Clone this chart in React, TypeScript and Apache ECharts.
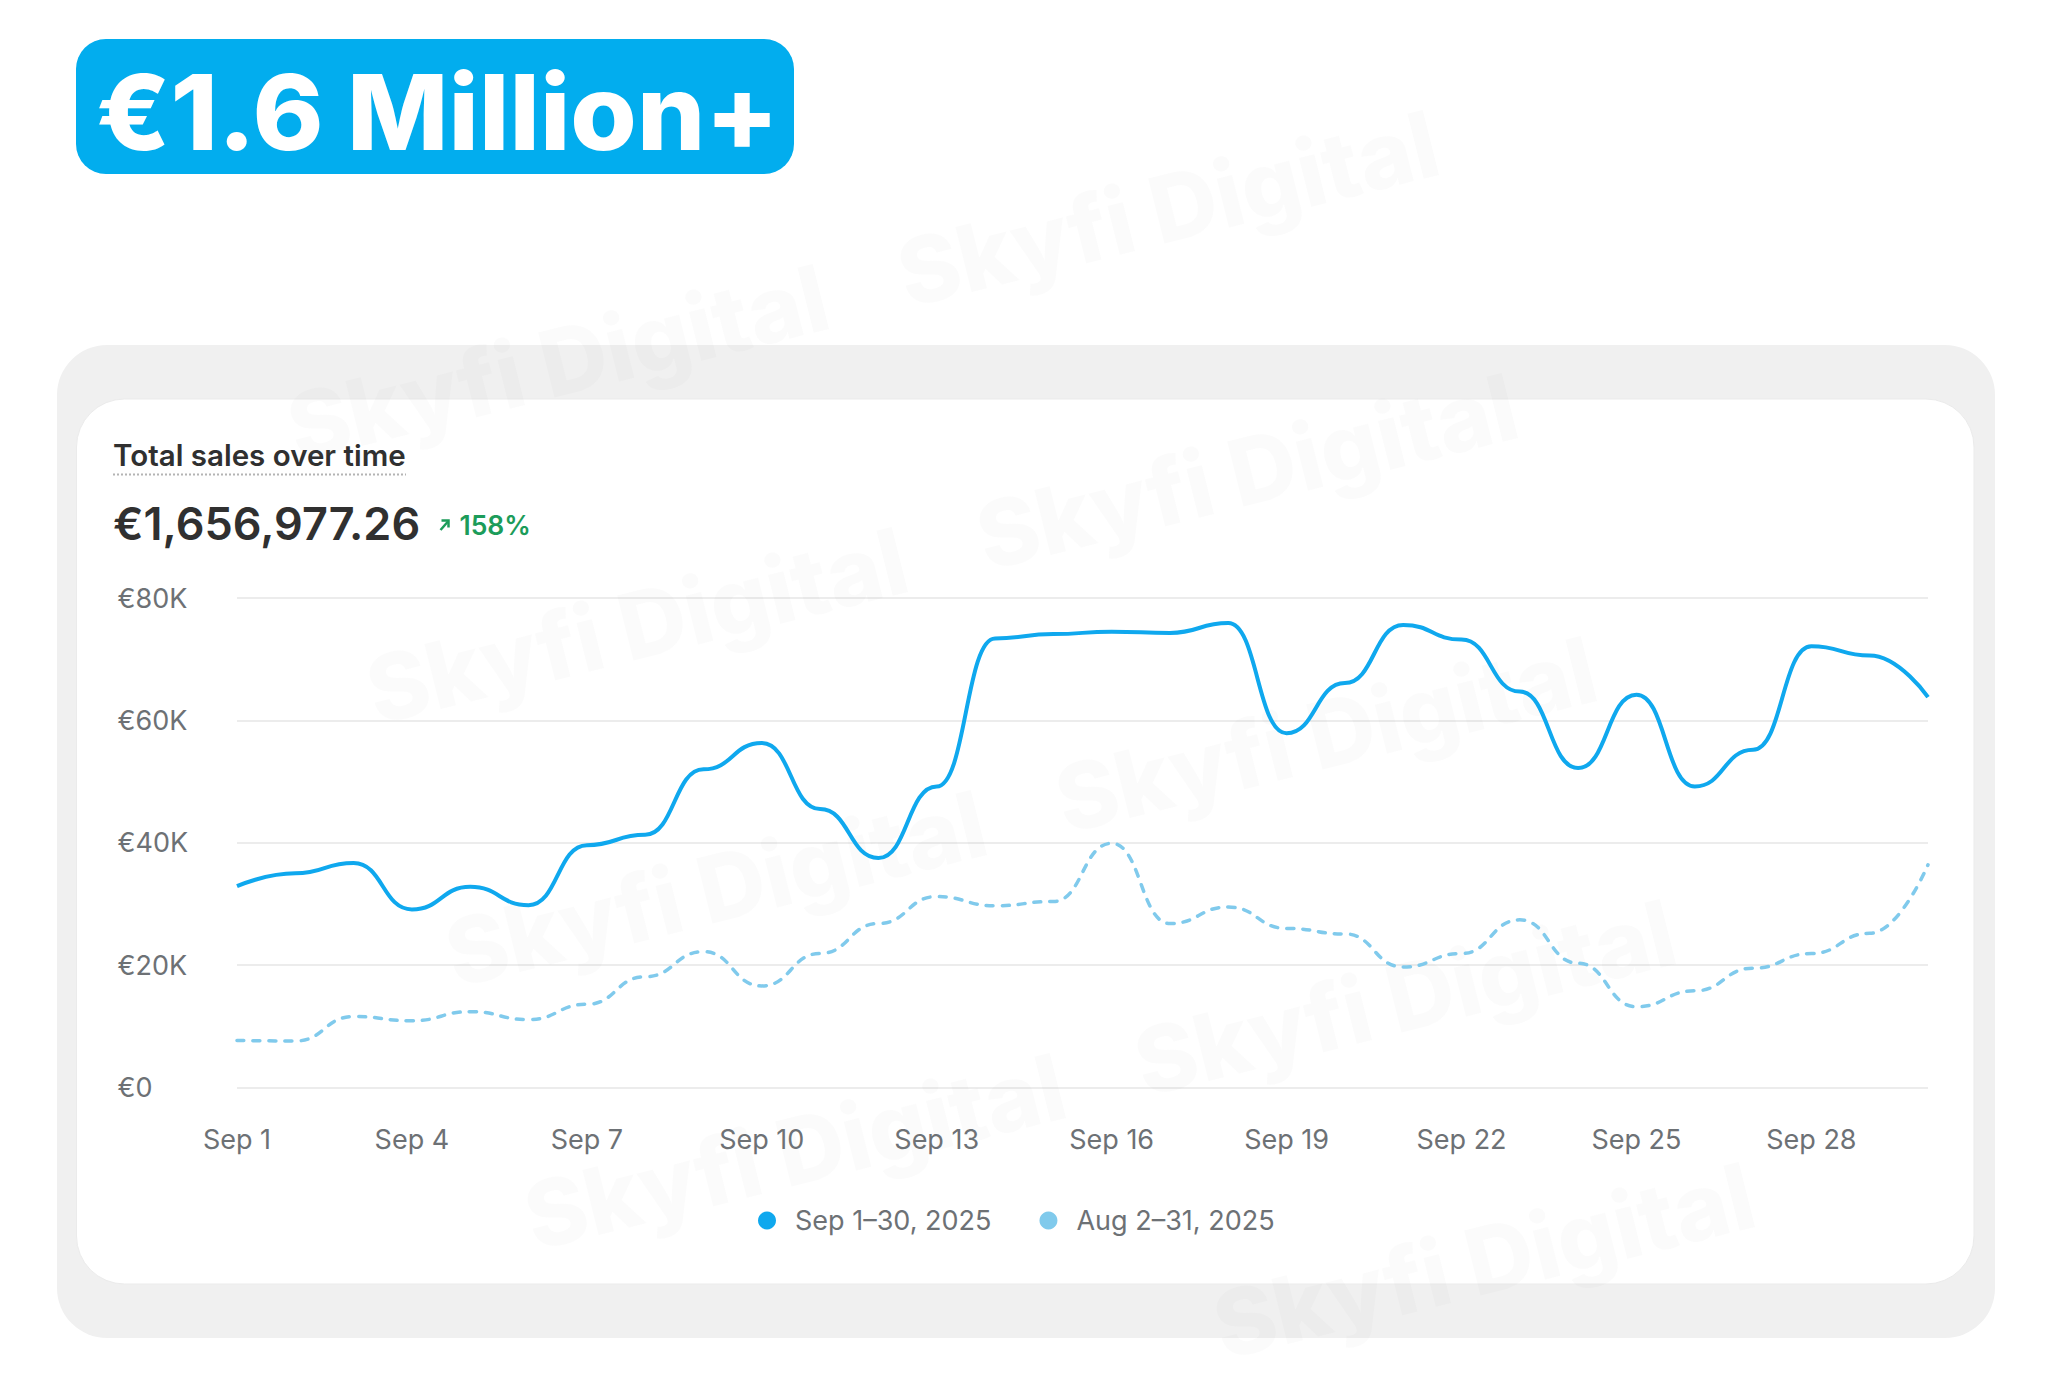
import React, { useEffect, useRef } from 'react';
import * as echarts from 'echarts';

const days = [
  'Sep 1', 'Sep 2', 'Sep 3', 'Sep 4', 'Sep 5', 'Sep 6', 'Sep 7', 'Sep 8', 'Sep 9', 'Sep 10',
  'Sep 11', 'Sep 12', 'Sep 13', 'Sep 14', 'Sep 15', 'Sep 16', 'Sep 17', 'Sep 18', 'Sep 19', 'Sep 20',
  'Sep 21', 'Sep 22', 'Sep 23', 'Sep 24', 'Sep 25', 'Sep 26', 'Sep 27', 'Sep 28', 'Sep 29', 'Sep 30',
];

const currentSales = [
  32900, 35000, 36700, 29100, 32800, 29800, 39600, 41300, 52000, 56300,
  45500, 37500, 49200, 73400, 74100, 74500, 74300, 75900, 57900, 66100,
  75600, 73200, 64700, 52200, 64200, 49200, 55200, 72100, 70600, 63800,
];

const previousSales = [
  7700, 7600, 11600, 10900, 12400, 11100, 13600, 18100, 22200, 16600,
  21900, 26800, 31200, 29700, 30400, 39900, 26800, 29500, 26000, 25100,
  19700, 21900, 27400, 20300, 13200, 15800, 19500, 21900, 25200, 36400,
];

const seriesNames = ['Sep 1–30, 2025', 'Aug 2–31, 2025'];
const seriesColors = ['#0fa8ee', '#80caec'];
const yTicks = [0, 20000, 40000, 60000, 80000];

const headline = '€1.6 Million+';
const cardTitle = 'Total sales over time';
const totalValue = '€1,656,977.26';
const changeValue = '158%';
const watermarkText = 'Skyfi Digital';

const FONT = 'Inter, "Noto Sans", sans-serif';
const LABEL_GREY = '#6d7175';
const GREEN = '#1c9c5a';

function buildWatermarks() {
  const items: any[] = [];
  const ox = 911;
  const oy = 320;
  const ax = 610, ay = -154; // along a row
  const bx = 79, by = 263; // to next row
  const theta = 0.245;
  const fontSize = 92;
  const textLen = 560;
  for (let j = -4; j <= 6; j++) {
    for (let i = -3; i <= 5; i++) {
      const x = ox + i * ax + j * bx;
      const y = oy + i * ay + j * by;
      const left = x - fontSize * Math.sin(theta);
      const right = x + textLen * Math.cos(theta);
      const top = y - textLen * Math.sin(theta) - fontSize * Math.cos(theta);
      if (left < 2 || right > 2046 || top < 2 || y > 1381) continue;
      items.push({
        type: 'text',
        x,
        y,
        rotation: theta,
        silent: true,
        z: 1,
        style: {
          text: watermarkText,
          x: 0,
          y: 0,
          fill: 'rgba(150,150,150,0.04)',
          font: `800 ${fontSize}px ${FONT}`,
          align: 'left',
          verticalAlign: 'bottom',
        },
      });
    }
  }
  return items;
}

export default function App() {
  const ref = useRef<HTMLDivElement>(null);

  useEffect(() => {
    if (!ref.current) return;
    const chart = echarts.init(ref.current, undefined, { renderer: 'svg' });
    const yMin = yTicks[0];
    const yMax = yTicks[yTicks.length - 1];
    const yStep = yTicks[1] - yTicks[0];

    chart.setOption({
      animation: false,
      textStyle: { fontFamily: FONT },
      graphic: [
        {
          type: 'rect', z: -10, silent: true,
          shape: { x: 76, y: 39, width: 718, height: 135, r: 30 },
          style: { fill: '#02adee' },
        },
        {
          type: 'text', z: -9, silent: true,
          x: 96, y: 113, scaleX: 1.034,
          style: {
            text: headline, x: 0, y: 0, fill: '#ffffff',
            font: `800 104px ${FONT}`, verticalAlign: 'middle', align: 'left',
          },
        },
        {
          type: 'rect', z: -10, silent: true,
          shape: { x: 57, y: 345, width: 1938, height: 993, r: 50 },
          style: { fill: '#f0f0f0' },
        },
        {
          type: 'rect', z: -9, silent: true,
          shape: { x: 76.5, y: 399, width: 1897.5, height: 885, r: 48 },
          style: { fill: '#ffffff', stroke: '#ebebeb', lineWidth: 1 },
        },
        {
          type: 'text', z: -8, silent: true,
          style: {
            text: cardTitle, x: 113, y: 454.5, fill: '#303030',
            font: `600 29.5px ${FONT}`, verticalAlign: 'middle', align: 'left',
          },
        },
        {
          type: 'line', z: -8, silent: true,
          shape: { x1: 113, y1: 474.5, x2: 406, y2: 474.5 },
          style: { stroke: '#b4b4b4', lineWidth: 2, lineDash: [2, 2] },
        },
        {
          type: 'text', z: -8, silent: true,
          style: {
            text: totalValue, x: 113, y: 523.6, fill: '#303030',
            font: `600 45px ${FONT}`, verticalAlign: 'middle', align: 'left',
          },
        },
        {
          type: 'line', z: -8, silent: true,
          shape: { x1: 440.5, y1: 530, x2: 448, y2: 521.5 },
          style: { stroke: GREEN, lineWidth: 2.5 },
        },
        {
          type: 'polyline', z: -8, silent: true,
          shape: { points: [[441.5, 520.5], [448.5, 520.5], [448.5, 527.5]] },
          style: { stroke: GREEN, lineWidth: 2.5, fill: 'none' },
        },
        {
          type: 'text', z: -8, silent: true,
          style: {
            text: changeValue, x: 459.5, y: 525, fill: GREEN,
            font: `600 26.5px ${FONT}`, verticalAlign: 'middle', align: 'left',
          },
        },
        ...buildWatermarks(),
      ],
      grid: { left: 237, right: 120, top: 598, bottom: 295.5, containLabel: false },
      legend: {
        data: seriesNames,
        left: 753,
        top: 1202,
        icon: 'circle',
        itemWidth: 18,
        itemHeight: 18,
        itemGap: 48,
        selectedMode: false,
        textStyle: { fontSize: 27, color: LABEL_GREY, fontFamily: FONT, padding: [0, 0, 0, 14] },
      },
      xAxis: {
        type: 'category',
        data: days,
        boundaryGap: false,
        axisLine: { show: false },
        axisTick: { show: false },
        splitLine: { show: false },
        axisLabel: {
          interval: 2,
          margin: 38.5,
          fontSize: 27,
          color: LABEL_GREY,
          fontFamily: FONT,
        },
      },
      yAxis: {
        type: 'value',
        min: yMin,
        max: yMax,
        interval: yStep,
        axisLine: { show: false },
        axisTick: { show: false },
        splitLine: { lineStyle: { color: '#ececec', width: 2 } },
        axisLabel: {
          align: 'left',
          margin: 119.5,
          fontSize: 27,
          color: LABEL_GREY,
          fontFamily: FONT,
          formatter: (v: number) => (v === 0 ? '€0' : `€${v / 1000}K`),
        },
      },
      series: [
        {
          name: seriesNames[0],
          type: 'line',
          data: currentSales,
          smooth: 0.5,
          smoothMonotone: 'x',
          symbol: 'none',
          z: 4,
          itemStyle: { color: seriesColors[0] },
          lineStyle: { color: seriesColors[0], width: 4 },
        },
        {
          name: seriesNames[1],
          type: 'line',
          data: previousSales,
          smooth: 0.5,
          smoothMonotone: 'x',
          symbol: 'none',
          z: 3,
          itemStyle: { color: seriesColors[1] },
          lineStyle: { color: seriesColors[1], width: 3.5, type: [7, 9], cap: 'round' },
        },
      ],
    });

    return () => chart.dispose();
  }, []);

  return (
    <div
      ref={ref}
      style={{ position: 'fixed', left: 0, top: 0, width: 2048, height: 1383, background: '#ffffff' }}
    />
  );
}
